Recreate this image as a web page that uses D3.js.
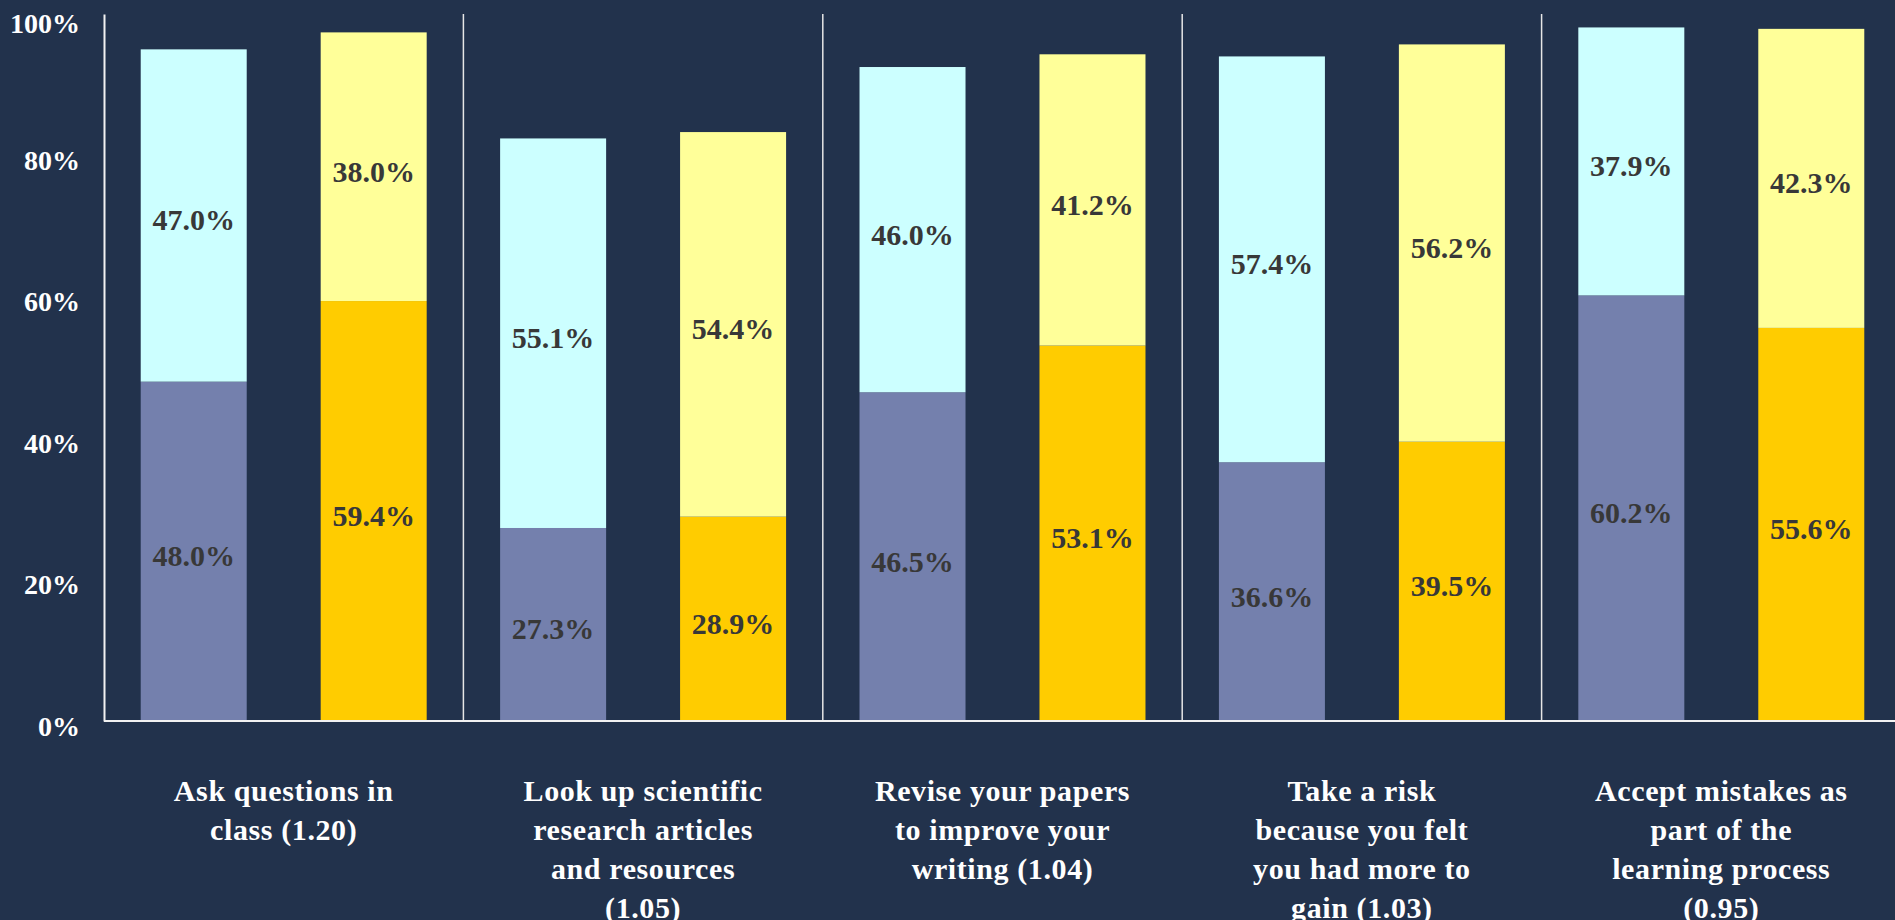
<!DOCTYPE html>
<html>
<head>
<meta charset="utf-8">
<script src="https://cdn.jsdelivr.net/npm/d3@7"></script>
<style>
  html, body { margin: 0; padding: 0; background: #22324c; overflow: hidden; }
  text { font-family: "Liberation Serif", "DejaVu Serif", serif; font-weight: bold; }
</style>
</head>
<body>
<div id="chart"></div>
<script>
var width = 1895,
    height = 920;

// categories, one label line per entry
var categories = ["c1", "c2", "c3", "c4", "c5"];
var categoryLines = [
    ["Ask questions in", "class (1.20)"],
    ["Look up scientific", "research articles", "and resources", "(1.05)"],
    ["Revise your papers", "to improve your", "writing (1.04)"],
    ["Take a risk", "because you felt", "you had more to", "gain (1.03)"],
    ["Accept mistakes as", "part of  the", "learning process", "(0.95)"]
];

// first bar (blue) : bottom and top segments
var blueBottom = [0.480, 0.273, 0.465, 0.366, 0.602];
var blueTop    = [0.470, 0.551, 0.460, 0.574, 0.379];
// second bar (gold) : bottom and top segments
var goldBottom = [0.594, 0.289, 0.531, 0.395, 0.556];
var goldTop    = [0.380, 0.544, 0.412, 0.562, 0.423];

var yTicks = [0, 0.2, 0.4, 0.6, 0.8, 1.0];

var series = ["blue", "gold"];
var colors = {
    blue: ["#7480ad", "#ccffff"],
    gold: ["#ffcc00", "#ffff99"]
};

var svg = d3.select("#chart").append("svg")
    .attr("width", width)
    .attr("height", height);

var x0 = d3.scaleBand()
    .domain(categories)
    .range([104, 1901])
    .padding(0);

var x1 = d3.scaleBand()
    .domain(series)
    .range([0, x0.bandwidth()])
    .paddingInner(0.411)
    .paddingOuter(0.204);

var y = d3.scaleLinear()
    .domain([0, 1])
    .range([721, 14]);

// build stacked segments
var segs = [];
categories.forEach(function (c, i) {
    var pairs = {
        blue: [blueBottom[i], blueTop[i]],
        gold: [goldBottom[i], goldTop[i]]
    };
    series.forEach(function (s) {
        var base = 0;
        pairs[s].forEach(function (v, k) {
            segs.push({ cat: c, s: s, k: k, y0: base, y1: base + v, v: v });
            base += v;
        });
    });
});

var g = svg.append("g");

g.selectAll("rect.seg")
    .data(segs)
    .enter().append("rect")
    .attr("class", "seg")
    .attr("x", d => x0(d.cat) + x1(d.s))
    .attr("width", x1.bandwidth())
    .attr("y", d => y(d.y1))
    .attr("height", d => y(d.y0) - y(d.y1))
    .style("fill", d => colors[d.s][d.k]);

g.selectAll("text.val")
    .data(segs)
    .enter().append("text")
    .attr("class", "val")
    .attr("x", d => x0(d.cat) + x1(d.s) + x1.bandwidth() / 2)
    .attr("y", d => y((d.y0 + d.y1) / 2) + 15)
    .attr("text-anchor", "middle")
    .style("font-size", "30px")
    .style("fill", "#383838")
    .text(d => d3.format(".1%")(d.v));

// separators between categories
var seps = categories.slice(1);
g.selectAll("line.sep")
    .data(seps)
    .enter().append("line")
    .attr("x1", d => x0(d)).attr("x2", d => x0(d))
    .attr("y1", y(1)).attr("y2", y(0))
    .style("stroke", "#e6e6e6")
    .style("stroke-width", 1.5);

// y axis
var yAxis = d3.axisLeft(y)
    .tickValues(yTicks)
    .tickSize(0)
    .tickPadding(24)
    .tickFormat(d3.format(".0%"));

var ya = svg.append("g")
    .attr("transform", "translate(104,0)")
    .call(yAxis);
ya.select(".domain").style("stroke", "#f2f2f2").style("stroke-width", 2);
ya.selectAll("text")
    .style("font-size", "28px")
    .style("fill", "#ffffff")
    .attr("dy", "0.5em")
    .filter(d => d === 1).attr("dy", "0.45em").attr("y", 6);

// baseline
svg.append("line")
    .attr("x1", 104).attr("x2", width)
    .attr("y1", y(0)).attr("y2", y(0))
    .style("stroke", "#f2f2f2")
    .style("stroke-width", 2);

// category labels
var cl = svg.selectAll("text.cat")
    .data(categories)
    .enter().append("text")
    .attr("class", "cat")
    .attr("text-anchor", "middle")
    .style("font-size", "30px")
    .style("letter-spacing", "0.6px")
    .style("fill", "#ffffff");

cl.selectAll("tspan")
    .data((d, i) => categoryLines[i].map(t => ({ t: t, c: d })))
    .enter().append("tspan")
    .attr("x", d => x0(d.c) + x0.bandwidth() / 2)
    .attr("y", (d, j) => 801 + j * 39)
    .text(d => d.t);
</script>
</body>
</html>
